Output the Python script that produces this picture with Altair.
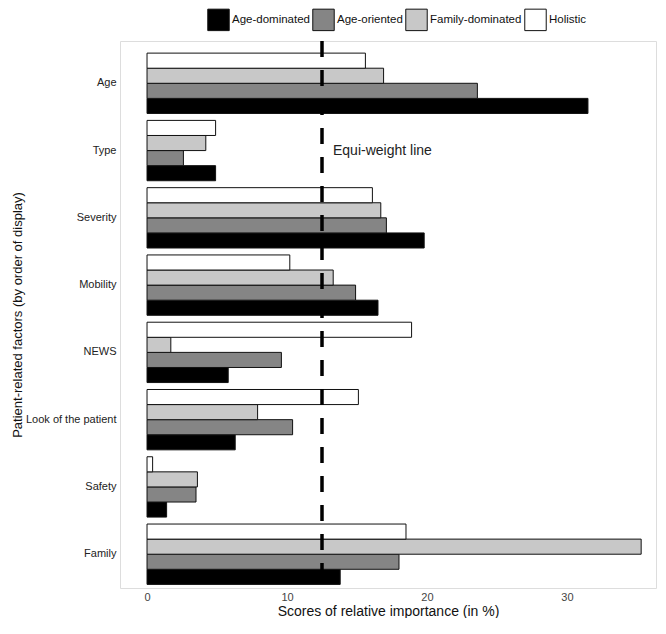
import altair as alt
import pandas as pd

factors = ["Age", "Type", "Severity", "Mobility", "NEWS",
           "Look of the patient", "Safety", "Family"]
groups = ["Age-dominated", "Age-oriented", "Family-dominated", "Holistic"]
age_dominated = [31.5, 4.9, 19.8, 16.5, 5.8, 6.3, 1.4, 13.8]
age_oriented = [23.6, 2.6, 17.1, 14.9, 9.6, 10.4, 3.5, 18.0]
family_dominated = [16.9, 4.2, 16.7, 13.3, 1.7, 7.9, 3.6, 35.3]
holistic = [15.6, 4.9, 16.1, 10.2, 18.9, 15.1, 0.4, 18.5]
group_colors = ["#000000", "#858585", "#c8c8c8", "#ffffff"]
x_ticks = [0, 10, 20, 30]
equi_weight = 12.5
equi_label = "Equi-weight line"

series = [age_dominated, age_oriented, family_dominated, holistic]
rows = []
for g, vals in zip(groups, series):
    for f, v in zip(factors, vals):
        rows.append({"factor": f, "group": g, "score": v})
df = pd.DataFrame(rows)

FONT = "Liberation Sans"

xscale = alt.Scale(domain=[-1.93, 36.36], nice=False, zero=False)
yscale = alt.Scale(domain=factors, paddingInner=0.103, paddingOuter=0.117, align=0.77)

bars = alt.Chart(df).mark_bar(stroke="#111111", strokeWidth=1).encode(
    x=alt.X("score:Q", scale=xscale,
            axis=alt.Axis(values=x_ticks, title="Scores of relative importance (in %)",
                          grid=False, ticks=False, domain=False, labelPadding=3,
                          labelFontSize=11, labelColor="#444444",
                          titleFontSize=14, titleFontWeight="normal", titleColor="#111111",
                          titleY=16, titleBaseline="top")),
    y=alt.Y("factor:N", scale=yscale, sort=factors,
            axis=alt.Axis(title="Patient-related factors (by order of display)",
                          ticks=False, domain=False, labelPadding=4,
                          labelFontSize=11, labelColor="#222222",
                          titleFontSize=13, titleFontWeight="normal", titleColor="#111111",
                          titleX=-103, titleY=273.5, titleAngle=-90,
                          titleAlign="center", titleBaseline="middle")),
    yOffset=alt.YOffset("group:N",
                        sort=["Holistic", "Family-dominated", "Age-oriented", "Age-dominated"],
                        scale=alt.Scale(paddingInner=0, paddingOuter=0)),
    fill=alt.Fill("group:N",
                  scale=alt.Scale(domain=groups, range=group_colors),
                  legend=alt.Legend(title=None, orient="none", legendX=87, legendY=-33,
                                    direction="horizontal", columns=4,
                                    symbolType="square", symbolSize=460,
                                    symbolStrokeColor="#111111", symbolStrokeWidth=1,
                                    symbolOpacity=1,
                                    labelFontSize=11.5, labelColor="#111111",
                                    labelOffset=2, columnPadding=0, padding=0)),
)

line_df = pd.DataFrame({"x": [equi_weight]})
rule = alt.Chart(line_df).mark_rule(color="#000000", strokeWidth=3.5,
                                    strokeDash=[16, 13]).encode(
    x=alt.X("x:Q", scale=xscale)
)

label_df = pd.DataFrame({"x": [equi_weight], "factor": ["Type"], "label": [equi_label]})
label = alt.Chart(label_df).mark_text(align="left", baseline="middle", dx=11,
                                      fontSize=14, color="#222222", font=FONT).encode(
    x=alt.X("x:Q", scale=xscale),
    y=alt.Y("factor:N", scale=yscale, sort=factors),
    text="label:N",
)

chart = alt.layer(bars, rule, label).properties(
    width=536, height=547,
    autosize=alt.AutoSizeParams(type="none"),
    padding={"left": 112, "top": 33, "right": 2, "bottom": 30},
).configure_view(
    stroke="#888888", strokeWidth=1
).configure(
    font=FONT
)

chart.save("out.html", embed_options={"renderer": "svg", "actions": False})
